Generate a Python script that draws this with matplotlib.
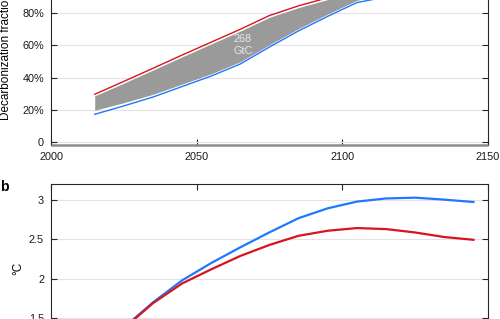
import matplotlib
matplotlib.use('Agg')
import matplotlib.pyplot as plt

plt.rcParams['font.family'] = ['Liberation Sans', 'DejaVu Sans']

# panel a: decarbonization fraction
years_a = [2015, 2025, 2035, 2045, 2055, 2065, 2075, 2085, 2095, 2105, 2115, 2125, 2135, 2145]
frac_red = [0.297, 0.377, 0.458, 0.540, 0.620, 0.700, 0.785, 0.845, 0.895, 0.940, 0.970, 0.990, 1.0, 1.0]
frac_blue = [0.173, 0.225, 0.280, 0.345, 0.410, 0.485, 0.590, 0.690, 0.780, 0.865, 0.900, 0.930, 0.960, 0.985]
band_hi = [0.287, 0.366, 0.447, 0.529, 0.609, 0.689, 0.774, 0.834, 0.884, 0.929, 0.959, 0.979, 0.99, 0.99]
band_lo = [0.198, 0.245, 0.297, 0.360, 0.424, 0.499, 0.604, 0.704, 0.794, 0.879, 0.914, 0.944, 0.974, 0.99]
a_yticks = [0, 0.2, 0.4, 0.6, 0.8, 1.0]
a_yticklabels = ['0', '20%', '40%', '60%', '80%', '100%']

# panel b: temperature
years_b = [2015, 2025, 2035, 2045, 2055, 2065, 2075, 2085, 2095, 2105, 2115, 2125, 2135, 2145]
temp_blue = [1.10, 1.38, 1.70, 1.98, 2.20, 2.40, 2.59, 2.77, 2.895, 2.98, 3.02, 3.03, 3.005, 2.975]
temp_red = [1.10, 1.37, 1.69, 1.94, 2.12, 2.29, 2.43, 2.546, 2.61, 2.644, 2.631, 2.588, 2.53, 2.495]
b_yticks = [1, 1.5, 2, 2.5, 3]
b_yticklabels = ['1', '1.5', '2', '2.5', '3']

xticks = [2000, 2050, 2100, 2150]

RED = '#d7141e'
BLUE = '#1f78ff'
AXC = '#262626'

fig = plt.figure(figsize=(5.0, 3.19), dpi=100)

ax1 = fig.add_axes([0.102, 0.5455, 0.874, 0.5147])
ax2 = fig.add_axes([0.102, -0.1207, 0.874, 0.543])

for ax in (ax1, ax2):
    ax.set_xlim(2000, 2150)
    ax.set_xticks(xticks)
    ax.tick_params(direction='in', length=4, width=0.8, color=AXC,
                   top=True, right=True, labelsize=7.8, pad=5, labelcolor='#1a1a1a')
    ax.grid(True, axis='y', color='#e3e3e3', lw=0.8)
    ax.set_axisbelow(True)
    for s in ax.spines.values():
        s.set_color(AXC)
        s.set_linewidth(0.8)

# panel a
ax1.set_ylim(-0.017, 1.0)
ax1.set_yticks(a_yticks)
ax1.set_yticklabels(a_yticklabels)
ax1.spines['bottom'].set_color('#8c8c8c')
ax1.spines['bottom'].set_linewidth(1.8)
ax1.spines['bottom'].set_capstyle('butt')
ax1.fill_between(years_a, band_lo, band_hi, color='#9a9a9a', lw=0)
ax1.plot(years_a, frac_red, color=RED, lw=1.0)
ax1.plot(years_a, frac_blue, color=BLUE, lw=1.0)
ax1.text(2065.8, 0.60, '268\nGtC', color='#e8e8e8', fontsize=7.8,
         ha='center', va='center', linespacing=1.25)
ax1.set_ylabel('Decarbonization fraction', fontsize=8.5)
ax1.yaxis.set_label_coords(-0.089, 0.54)

# panel b
ax2.set_ylim(1.0, 3.2)
ax2.set_yticks(b_yticks)
ax2.set_yticklabels(b_yticklabels)
ax2.plot(years_b, temp_blue, color=BLUE, lw=1.6)
ax2.plot(years_b, temp_red, color=RED, lw=1.6)
ax2.set_ylabel('°C', fontsize=8.5)
ax2.yaxis.set_label_coords(-0.062, 0.517)

fig.text(0.0, 0.402, 'b', fontsize=10, fontweight='bold', ha='left', va='baseline')

fig.savefig('out.png', dpi=100)
